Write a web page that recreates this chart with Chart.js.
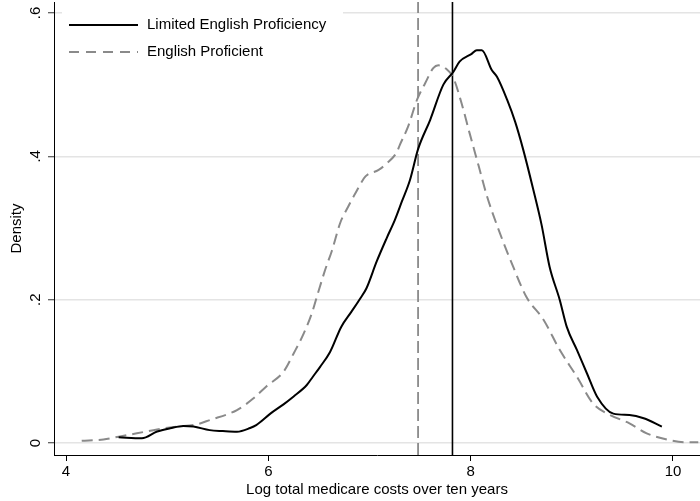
<!DOCTYPE html>
<html>
<head>
<meta charset="utf-8">
<script src="https://cdn.jsdelivr.net/npm/chart.js@4/dist/chart.umd.min.js"></script>
<style>
  html, body { margin: 0; padding: 0; background: #fff; }
  #wrap { width: 700px; height: 501px; position: relative; }
</style>
</head>
<body>
<div id="wrap"><canvas id="c" width="700" height="501"></canvas></div>
<script>
// ---- data ----
const seriesNames = ["Limited English Proficiency", "English Proficient"];
const lepX = [4.52,4.75,4.90,5.03,5.16,5.26,5.42,5.55,5.69,5.82,5.88,6.02,6.15,6.25,6.38,6.44,6.51,6.61,6.72,6.82,6.91,6.97,7.07,7.17,7.25,7.32,7.40,7.48,7.60,7.73,7.83,7.89,8.01,8.06,8.11,8.21,8.26,8.36,8.44,8.52,8.62,8.70,8.78,8.88,8.95,9.05,9.15,9.25,9.41,9.57,9.71,9.89];
const lepY = [0.008,0.0066,0.016,0.0205,0.0237,0.023,0.018,0.0167,0.0158,0.021,0.025,0.041,0.054,0.065,0.081,0.0925,0.106,0.127,0.162,0.183,0.202,0.216,0.253,0.286,0.311,0.337,0.367,0.41,0.451,0.50,0.518,0.532,0.543,0.548,0.548,0.520,0.511,0.479,0.448,0.409,0.353,0.305,0.246,0.200,0.162,0.130,0.097,0.0646,0.041,0.039,0.0345,0.023];
const epX = [4.155,4.37,4.52,4.70,4.90,5.09,5.29,5.42,5.69,5.85,5.98,6.15,6.25,6.35,6.43,6.49,6.56,6.63,6.71,6.79,6.87,6.96,7.09,7.17,7.27,7.30,7.38,7.47,7.55,7.63,7.68,7.75,7.83,7.91,7.99,8.08,8.16,8.27,8.42,8.55,8.72,8.88,9.05,9.21,9.38,9.57,9.74,9.94,10.14,10.25];
const epY = [0.0032,0.005,0.0088,0.0135,0.019,0.0228,0.026,0.032,0.046,0.062,0.079,0.0995,0.125,0.153,0.181,0.209,0.241,0.269,0.307,0.330,0.351,0.372,0.381,0.39,0.406,0.416,0.441,0.479,0.502,0.523,0.527,0.523,0.509,0.474,0.432,0.386,0.345,0.300,0.246,0.204,0.172,0.13,0.0925,0.055,0.039,0.0275,0.0135,0.005,0.001,0.001];
const meanLines = [7.82, 7.48]; // LEP mean, EP mean
const xTicks = [4, 6, 8, 10];
const yTicks = [0, 0.2, 0.4, 0.6];
const yTickLabels = ["0", ".2", ".4", ".6"];
const xTitle = "Log total medicare costs over ten years";
const yTitle = "Density";
const xRange = [3.881, 10.267];
const yRange = [-0.0167, 0.6153];

// ---- styles ----
const FONT = "'Liberation Sans', Arial, Helvetica, sans-serif";
const solidColor = "#000000";
const dashColor = "#8a8a8a";
const curveDash = [11, 6];
const meanDash = [12, 5];

const toPts = (xs, ys) => xs.map((x, i) => ({ x: x, y: ys[i] }));
const vline = (v) => [{ x: v, y: yRange[0] }, { x: v, y: yRange[1] }];

const legendPlugin = {
  id: 'stataLegend',
  afterDatasetsDraw(chart) {
    const ctx = chart.ctx;
    const a = chart.chartArea;
    const bx = a.left + 8, by = a.top + 1, bw = 281, bh = 67;
    ctx.save();
    ctx.fillStyle = '#ffffff';
    ctx.fillRect(bx, by, bw, bh);
    const items = [
      { label: seriesNames[0], color: solidColor, dash: [], width: 2 },
      { label: seriesNames[1], color: dashColor, dash: [10, 7], width: 2 }
    ];
    items.forEach((it, i) => {
      const y = a.top + 23 + i * 27;
      ctx.beginPath();
      ctx.setLineDash(it.dash);
      ctx.strokeStyle = it.color;
      ctx.lineWidth = it.width;
      ctx.moveTo(a.left + 15, y);
      ctx.lineTo(a.left + 84, y);
      ctx.stroke();
      ctx.setLineDash([]);
      ctx.fillStyle = '#000';
      ctx.font = "15px " + FONT;
      ctx.textBaseline = 'middle';
      ctx.textAlign = 'left';
      ctx.fillText(it.label, a.left + 93, y);
    });
    ctx.restore();
  }
};

new Chart(document.getElementById('c'), {
  type: 'line',
  data: {
    datasets: [
      { label: seriesNames[0], data: toPts(lepX, lepY), borderColor: solidColor, borderWidth: 2, pointRadius: 0, cubicInterpolationMode: 'monotone', fill: false, order: 1 },
      { label: seriesNames[1], data: toPts(epX, epY), borderColor: dashColor, borderWidth: 2, borderDash: curveDash, pointRadius: 0, cubicInterpolationMode: 'monotone', fill: false, order: 2 },
      { label: 'mean LEP', data: vline(meanLines[0]), borderColor: solidColor, borderWidth: 1.6, pointRadius: 0, tension: 0, fill: false, order: 3 },
      { label: 'mean EP', data: vline(meanLines[1]), borderColor: dashColor, borderWidth: 1.8, borderDash: meanDash, pointRadius: 0, tension: 0, fill: false, order: 4 }
    ]
  },
  options: {
    responsive: false,
    animation: false,
    devicePixelRatio: 1,
    layout: { padding: { top: 2, right: 0, left: 0, bottom: 0 } },
    plugins: { legend: { display: false }, tooltip: { enabled: false } },
    scales: {
      x: {
        type: 'linear',
        min: xRange[0], max: xRange[1],
        afterBuildTicks: (s) => { s.ticks = xTicks.map(v => ({ value: v })); },
        afterFit: (s) => { s.height = 46; s.paddingLeft = 0; s.paddingRight = 0; },
        grid: { display: true, drawOnChartArea: false, drawTicks: true, tickLength: 6, tickColor: '#000', tickWidth: 1 },
        border: { display: true, color: '#000', width: 1 },
        ticks: { color: '#000', font: { family: FONT, size: 15 }, padding: 2, maxRotation: 0, autoSkip: false,
                 callback: (v) => String(v) },
        title: { display: true, text: xTitle, color: '#000', font: { family: FONT, size: 15 }, padding: { top: 0, bottom: 2 } }
      },
      y: {
        type: 'linear',
        min: yRange[0], max: yRange[1],
        afterBuildTicks: (s) => { s.ticks = yTicks.map(v => ({ value: v })); },
        afterFit: (s) => { s.width = 54; s.paddingTop = 0; s.paddingBottom = 0; },
        grid: { display: true, drawOnChartArea: true, color: '#e4e4e4', lineWidth: 1.5, drawTicks: true, tickLength: 6, tickColor: '#333', tickWidth: 1 },
        border: { display: true, color: '#000', width: 1 },
        ticks: { color: '#000', font: { family: FONT, size: 15 }, padding: 6, minRotation: 90, maxRotation: 90, crossAlign: 'center', autoSkip: false,
                 callback: (v) => { const i = yTicks.indexOf(v); return i >= 0 ? yTickLabels[i] : ''; } },
        title: { display: true, text: yTitle, color: '#000', font: { family: FONT, size: 15 }, padding: { top: 8, bottom: 0 } }
      }
    }
  },
  plugins: [legendPlugin]
});
</script>
</body>
</html>
